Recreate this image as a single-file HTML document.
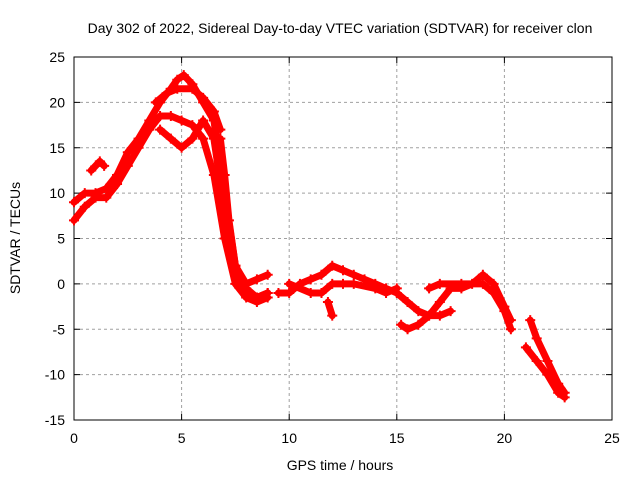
<!DOCTYPE html>
<html><head><meta charset="utf-8"><style>
body{margin:0;background:#fff}
svg text{font-family:"Liberation Sans",sans-serif;font-size:14px;fill:#000}
</style></head><body>
<svg width="640" height="480">
<rect width="640" height="480" fill="#fff"/>
<g id="grid"></g>
<g id="axes"></g>
<g id="series"></g>
<text x="340" y="33" text-anchor="middle">Day 302 of 2022, Sidereal Day-to-day VTEC variation (SDTVAR) for receiver clon</text>
<text x="340" y="470" text-anchor="middle">GPS time / hours</text>
<text x="20" y="238" text-anchor="middle" transform="rotate(-90 20 238)">SDTVAR / TECUs</text>
</svg>
<script>
const xTicks=[0,5,10,15,20,25];
const yTicks=[-15,-10,-5,0,5,10,15,20,25];
const s1=[[0,7],[0.5,8.5],[1,9.5],[1.5,9.5],[2,11],[2.5,13],[3,15],[3.5,17],[4,18.5],[4.5,18.5],[5,18],[5.5,17.5],[6,16],[6.5,12],[7,5],[7.5,0],[8,-1.5],[8.5,-2],[9,-1.5]];
const s2=[[0,9],[0.5,10],[1,10],[1.5,10.5],[2,12],[2.5,14.5],[3,16],[3.5,18],[4,20],[4.5,21.5],[4.8,22.5],[5.1,23],[5.5,22],[6,20],[6.5,18],[7,10],[7.5,2],[8,-1],[8.5,-1.5],[9,-1]];
const s3=[[3.8,20],[4.3,21],[4.8,21.5],[5.5,21.5],[6,20.5],[6.5,19],[6.8,17]];
const s4=[[4,17],[4.5,16],[5,15],[5.5,16],[6,18],[6.5,16],[7,8],[7.5,2],[8,-0.5],[8.5,-1.5],[9,-1]];
const s5=[[6.8,16],[7,12],[7.2,7],[7.5,2],[8,0],[8.5,0.5],[9,1]];
const s6=[[0.8,12.5],[1.2,13.5],[1.4,13]];
const s7=[[9.5,-1],[10,-1],[10.5,0],[11,0.5],[11.5,1],[12,2],[12.5,1.5],[13,1],[13.5,0.5],[14,0],[14.5,-0.5],[15,-1],[15.5,-2],[16,-3],[16.5,-3.5],[17,-3.5],[17.5,-3]];
const s8=[[10,0],[11,-1],[11.5,-1],[12,0],[12.5,0],[13,0],[14,-0.5],[14.5,-1],[15,-0.5]];
const s9=[[15.2,-4.5],[15.5,-5],[16,-4.5],[16.5,-3.5],[17,-2],[17.5,-0.5],[18,-0.5],[18.5,0],[19,1],[19.5,0],[20,-2.5],[20.3,-4]];
const s10=[[16.5,-0.5],[17,0],[18,0],[19,0],[19.5,-1],[20,-3],[20.3,-5]];
const s11=[[21,-7],[21.5,-8.5],[22,-10],[22.5,-12],[22.8,-12.5]];
const s12=[[21.2,-4],[21.5,-6],[22,-8.5],[22.5,-11],[22.8,-12]];
const s13=[[11.8,-2],[12,-3.5]];
const allSeries=[s1,s2,s3,s4,s5,s6,s7,s8,s9,s10,s11,s12,s13];
const X0=74,X1=612,Y0=420,Y1=57;
const xs=h=>X0+(h-0)/25*(X1-X0);
const ys=v=>Y0-(v+15)/40*(Y0-Y1);
const NS='http://www.w3.org/2000/svg';
function mk(t,a,p){const e=document.createElementNS(NS,t);for(const k in a)e.setAttribute(k,a[k]);p.appendChild(e);return e;}
const grid=document.getElementById('grid'),axes=document.getElementById('axes'),ser=document.getElementById('series');
xTicks.forEach(t=>{const x=xs(t);
 if(t>0&&t<25){const l=mk('line',{x1:x,x2:x,y1:Y1,y2:Y0,stroke:'#a0a0a0','stroke-dasharray':'3,3'},grid);}
 mk('line',{x1:x,x2:x,y1:Y0,y2:Y0-6,stroke:'#000'},axes);mk('line',{x1:x,x2:x,y1:Y1,y2:Y1+6,stroke:'#000'},axes);
 const tx=mk('text',{x:x,y:Y0+23,'text-anchor':'middle'},axes);tx.textContent=t;
 });
yTicks.forEach(t=>{const y=ys(t);
 if(t>-15&&t<25){const l=mk('line',{x1:X0,x2:X1,y1:y,y2:y,stroke:'#a0a0a0','stroke-dasharray':'3,3'},grid);}
 mk('line',{x1:X0,x2:X0+6,y1:y,y2:y,stroke:'#000'},axes);mk('line',{x1:X1,x2:X1-6,y1:y,y2:y,stroke:'#000'},axes);
 const tx=mk('text',{x:X0-9,y:y+5,'text-anchor':'end'},axes);tx.textContent=t;
 });
const fr=mk('rect',{x:X0,y:Y1,width:X1-X0,height:Y0-Y1,fill:'none',stroke:'#000'},axes);

allSeries.forEach((s,i)=>{
 const pl=mk('polyline',{points:s.map(p=>xs(p[0])+','+ys(p[1])).join(' '),fill:'none',stroke:'#ff0000','stroke-width':7,'stroke-linejoin':'round','stroke-linecap':'round'},ser);
 
 
 s.forEach(p=>{const x=xs(p[0]),y=ys(p[1]);
  const m=mk('path',{d:`M${x-5},${y}H${x+5}M${x},${y-5}V${y+5}`,stroke:'#ff0000','stroke-width':2},ser);
  
  });
});
</script>
</body></html>
